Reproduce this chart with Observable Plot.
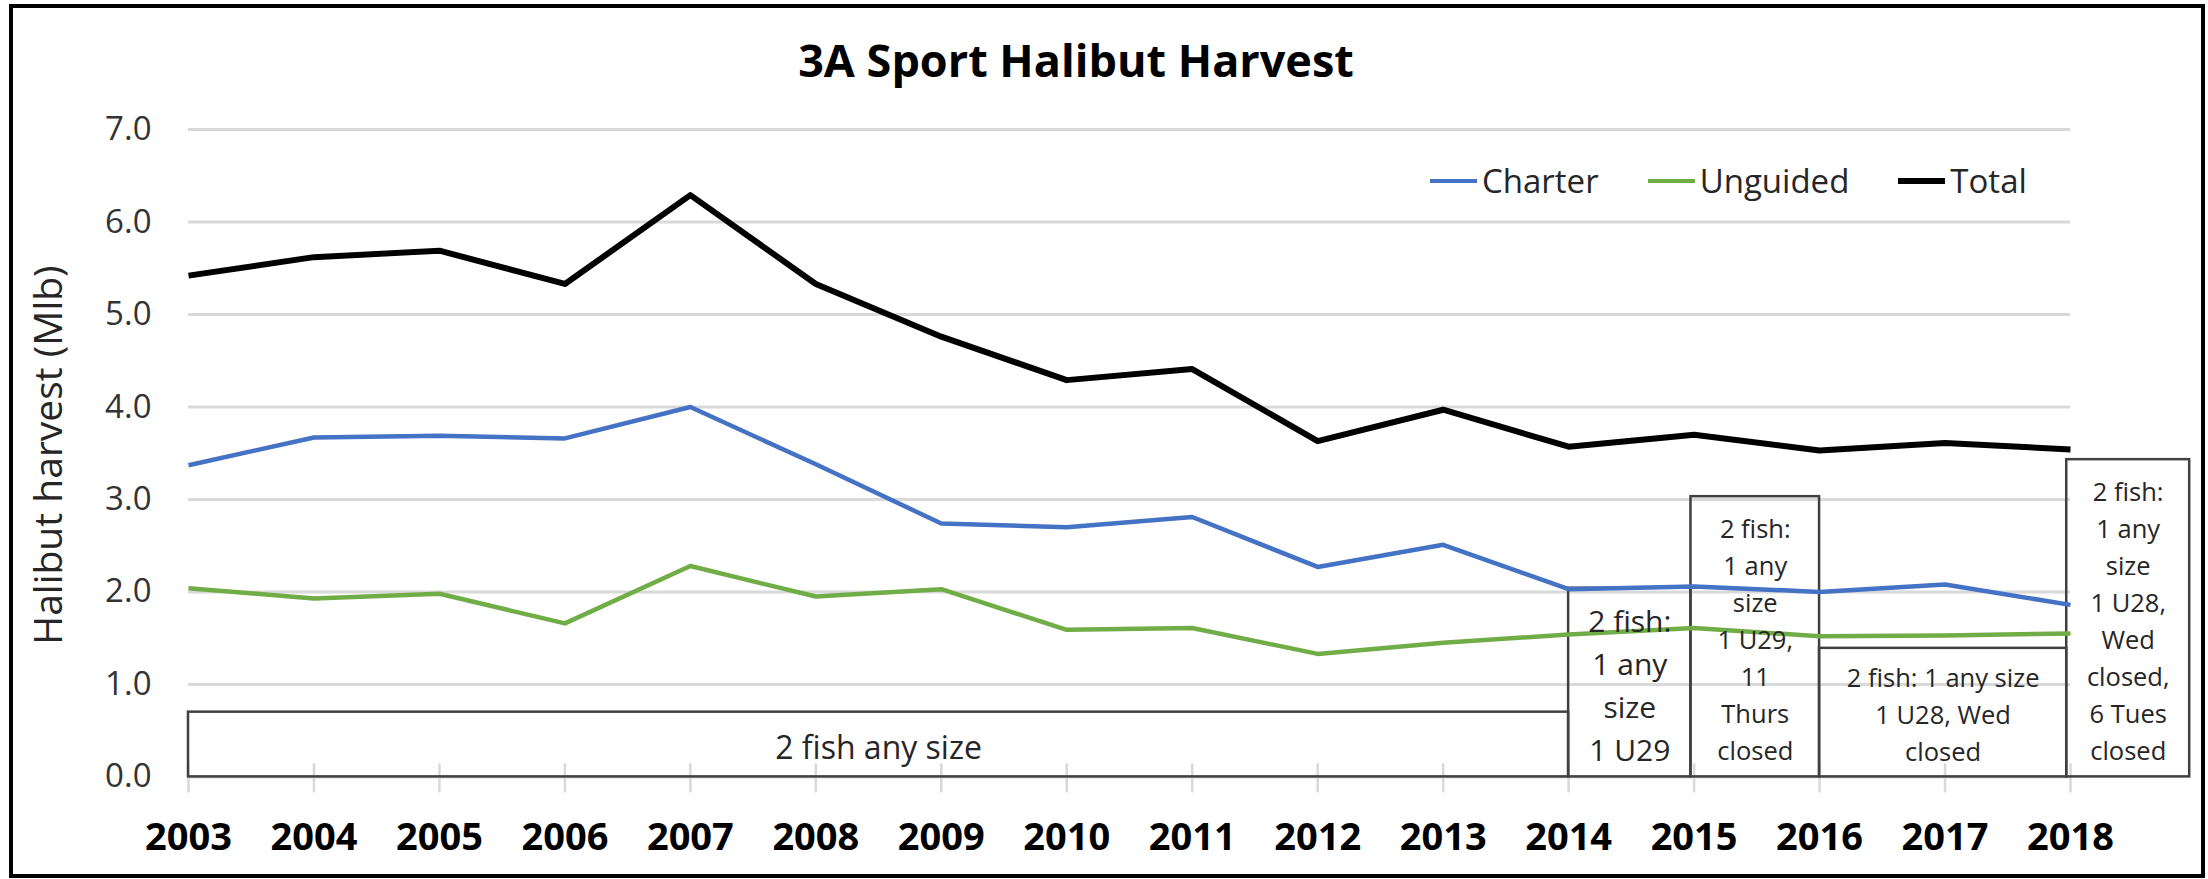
<!DOCTYPE html>
<html><head><meta charset="utf-8">
<script src="https://cdn.jsdelivr.net/npm/d3@7"></script>
<script src="https://cdn.jsdelivr.net/npm/@observablehq/plot@0.6"></script>
<style>
html,body{margin:0;padding:0;background:#fff;}
#wrap{position:relative;width:2208px;height:879px;font-family:"Open Sans",sans-serif;color:#000;overflow:hidden;}
#head{position:relative;height:100px;}
#title{position:absolute;left:0;width:2152px;top:37px;text-align:center;font-size:45px;font-weight:700;line-height:1;white-space:nowrap;}
#ylab{position:absolute;left:-253px;top:428px;width:600px;height:54px;line-height:54px;text-align:center;font-size:39px;color:#262626;transform:rotate(-90deg);white-space:nowrap;}
#legend{position:absolute;left:1430px;top:161px;height:40px;display:flex;align-items:center;font-size:33px;line-height:40px;color:#262626;white-space:nowrap;}
.item{display:flex;align-items:center;margin-right:49px;}
.sw{width:47px;margin-right:5px;}
#frame{position:absolute;left:9px;top:4px;width:2188px;height:866px;border:4px solid #000;pointer-events:none;}
#chart svg{display:block;}
</style>
</head><body>
<div id="wrap">
  <div id="head"><div id="title"></div></div>
  <div id="chart"></div>
  <div id="ylab"></div>
  <div id="legend"></div>
  <div id="frame"></div>
</div>
<script>
const titleText = "3A Sport Halibut Harvest";
const yAxisLabel = "Halibut harvest (Mlb)";
const years = [2003, 2004, 2005, 2006, 2007, 2008, 2009, 2010, 2011, 2012, 2013, 2014, 2015, 2016, 2017, 2018];
const charter  = [3.37, 3.67, 3.69, 3.66, 4.00, 3.38, 2.74, 2.70, 2.81, 2.27, 2.51, 2.03, 2.06, 2.00, 2.08, 1.86];
const unguided = [2.04, 1.93, 1.98, 1.66, 2.28, 1.95, 2.03, 1.59, 1.61, 1.33, 1.45, 1.54, 1.61, 1.52, 1.53, 1.55];
const total    = [5.42, 5.62, 5.69, 5.33, 6.29, 5.33, 4.76, 4.29, 4.41, 3.63, 3.97, 3.57, 3.70, 3.53, 3.61, 3.54];
const seriesNames = ["Charter", "Unguided", "Total"];
const yTicks = [0, 1, 2, 3, 4, 5, 6, 7];

// regulation periods (annotation boxes)
const regLabels = [
  "2 fish any size",
  "2 fish:\n1 any\nsize\n1 U29",
  "2 fish:\n1 any\nsize\n1 U29,\n11\nThurs\nclosed",
  "2 fish: 1 any size\n1 U28, Wed\nclosed",
  "2 fish:\n1 any\nsize\n1 U28,\nWed\nclosed,\n6 Tues\nclosed"
];
const regStart = [2003, 2014, 2014.975, 2016, 2017.97];
const regEnd   = [2014, 2014.975, 2016, 2017.97, 2018.95];
const regTop   = [0.70, 2.04, 3.03, 1.39, 3.43];

const colors = {Charter: "#4472C4", Unguided: "#70AD47", Total: "#000000"};
const widths = {Charter: 4.5, Unguided: 4.5, Total: 6};

const rows = (vals) => years.map((y, i) => ({year: y, value: vals[i]}));
const regs = regLabels.map((t, i) => ({label: t, start: regStart[i], end: regEnd[i], top: regTop[i]}));

document.getElementById("title").textContent = titleText;
document.getElementById("ylab").textContent = yAxisLabel;

const legend = document.getElementById("legend");
seriesNames.forEach(n => {
  const it = document.createElement("div"); it.className = "item";
  const sw = document.createElement("div"); sw.className = "sw";
  sw.style.height = (n === "Total" ? 6 : 4.5) + "px"; sw.style.background = colors[n];
  const tx = document.createElement("span"); tx.textContent = n;
  it.appendChild(sw); it.appendChild(tx); legend.appendChild(it);
});

const boxText = (filter, fontSize, lineHeight) => Plot.text(regs, {
  filter, x: d => (d.start + d.end) / 2, y: d => d.top / 2, text: "label",
  fontSize, lineHeight, textAnchor: "middle", lineAnchor: "middle", fill: "#262626"
});

const chart = Plot.plot({
  width: 2208, height: 779,
  marginLeft: 188, marginRight: 138, marginTop: 29, marginBottom: 102.6,
  style: {fontFamily: "Open Sans", background: "transparent", overflow: "visible"},
  x: {type: "linear", domain: [2003, 2018]},
  y: {domain: [0, 7]},
  marks: [
    Plot.gridY(yTicks, {stroke: "#d9d9d9", strokeOpacity: 1, strokeWidth: 3}),
    Plot.axisY(yTicks, {tickSize: 0, tickPadding: 37, fontSize: 33, tickFormat: d3.format(".1f"), label: null, fill: "#333"}),
    Plot.axisX(years, {tickSize: 29, dy: -13, tickFormat: () => "", stroke: "#d9d9d9", strokeWidth: 2.5, strokeOpacity: 1, label: null}),
    Plot.axisX(years, {tickSize: 0, tickPadding: 46, fontSize: 38, fontWeight: "bold", tickFormat: d => String(d), label: null, fill: "#000"}),
    Plot.rect(regs, {x1: "start", x2: "end", y1: 0, y2: "top", fill: "none", stroke: "#404040", strokeWidth: 2.5}),
    Plot.line(rows(charter), {x: "year", y: "value", stroke: colors.Charter, strokeWidth: widths.Charter, strokeLinecap: "butt", strokeLinejoin: "round"}),
    Plot.line(rows(unguided), {x: "year", y: "value", stroke: colors.Unguided, strokeWidth: widths.Unguided, strokeLinecap: "butt", strokeLinejoin: "round"}),
    Plot.line(rows(total), {x: "year", y: "value", stroke: colors.Total, strokeWidth: widths.Total, strokeLinecap: "butt", strokeLinejoin: "round"}),
    boxText((d, i) => i === 0, 32, 1.4),
    boxText((d, i) => i === 1, 30, 1.43),
    boxText((d, i) => i >= 2, 25.5, 1.45)
  ]
});
document.getElementById("chart").appendChild(chart);
</script>
</body></html>
